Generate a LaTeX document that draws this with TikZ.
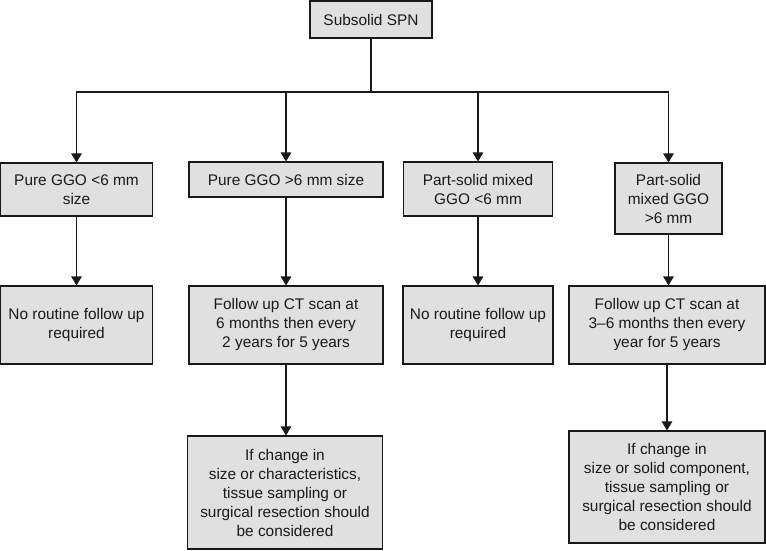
\documentclass[tikz,border=0pt]{standalone}
\usepackage{fontspec}
\setmainfont{Liberation Sans}
\usetikzlibrary{arrows.meta}
\definecolor{boxfill}{RGB}{224,224,224}
\definecolor{ink}{RGB}{25,25,25}
\tikzset{
  box/.style={draw=ink, fill=boxfill, line width=1.1pt, align=center, inner sep=0pt,
    font=\fontsize{15.4}{19}\selectfont, text=ink},
  arr/.style={draw=ink, line width=1.1pt, -{Triangle[width=10.5pt,length=9pt]}},
  ln/.style={draw=ink, line width=1.1pt}
}
\begin{document}
\begin{tikzpicture}[x=1pt,y=-1pt]
\useasboundingbox (0,0) rectangle (766,550);
\node[box, minimum width=122pt, minimum height=37pt] (top) at (371,19.5) {Subsolid SPN};
\node[box, minimum width=152pt, minimum height=53pt] (A1) at (76.5,189.5) {Pure GGO <6 mm\\size};
\node[box, minimum width=194pt, minimum height=35pt] (A2) at (286,179.5) {Pure GGO >6 mm size};
\node[box, minimum width=149pt, minimum height=54pt] (A3) at (478,189) {Part-solid mixed\\GGO <6 mm};
\node[box, minimum width=107pt, minimum height=71pt] (A4) at (668.5,198.5) {Part-solid\\mixed GGO\\>6 mm};
\node[box, minimum width=152pt, minimum height=78pt] (B1) at (76.5,325) {No routine follow up\\required};
\node[box, minimum width=194pt, minimum height=78pt] (B2) at (286,325) {Follow up CT scan at\\6 months then every\\2 years for 5 years};
\node[box, minimum width=150pt, minimum height=78pt] (B3) at (478,325) {No routine follow up\\required};
\node[box, minimum width=196pt, minimum height=78pt] (B4) at (667,325) {Follow up CT scan at\\3–6 months then every\\year for 5 years};
\node[box, minimum width=195pt, minimum height=113pt] (C2) at (285,492.5) {If change in\\size or characteristics,\\tissue sampling or\\surgical resection should\\be considered};
\node[box, minimum width=196pt, minimum height=112pt] (C4) at (667,487) {If change in\\size or solid component,\\tissue sampling or\\surgical resection should\\be considered};
\coordinate (j) at (371,92);
\draw[ln] (top.south) -- (j);
\draw[arr] (j) -| (A1.north);
\draw[arr] (j) -| (A2.north);
\draw[arr] (j) -| (A3.north);
\draw[arr] (j) -| (A4.north);
\draw[arr] (A1.south) -- (B1.north);
\draw[arr] (A2.south) -- (B2.north);
\draw[arr] (A3.south) -- (B3.north);
\draw[arr] (A4.south) -- (A4.south |- B4.north);
\draw[arr] (B2.south) -- (B2.south |- C2.north);
\draw[arr] (B4.south) -- (B4.south |- C4.north);
\end{tikzpicture}
\end{document}
